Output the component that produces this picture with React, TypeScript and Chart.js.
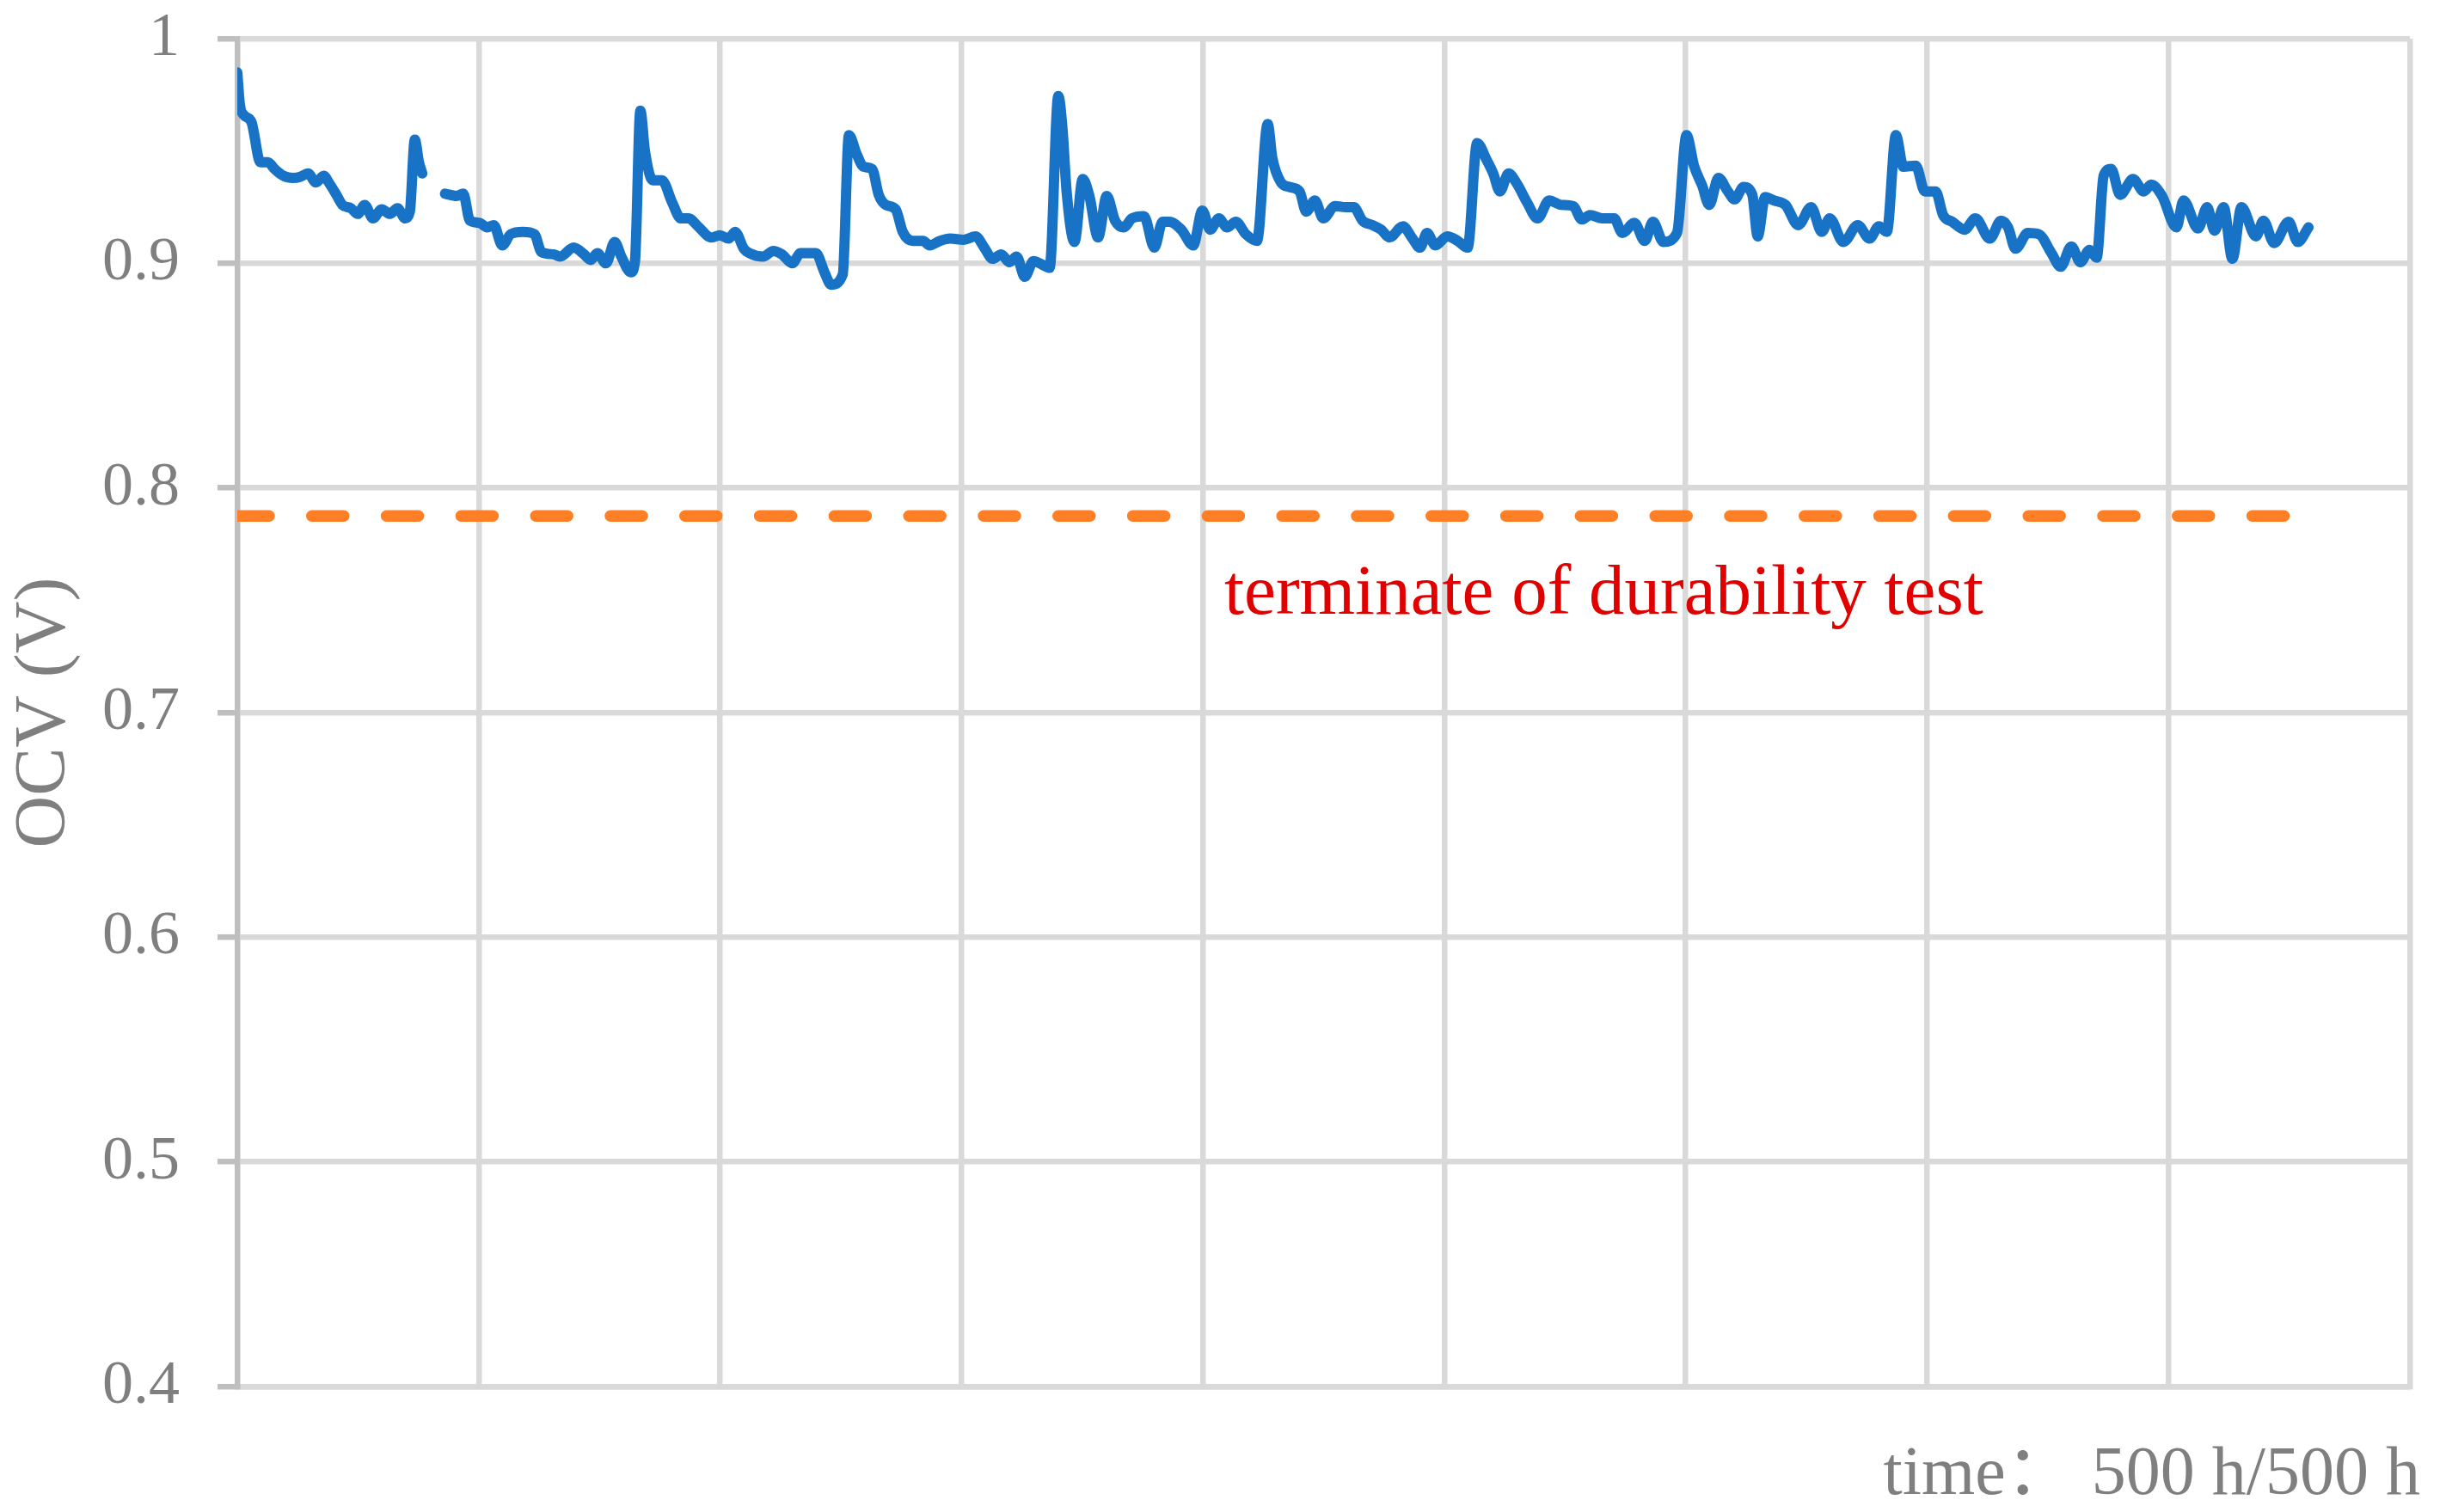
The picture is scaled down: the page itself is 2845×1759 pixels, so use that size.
import React, { useEffect, useRef } from 'react';
import { Chart, registerables } from 'chart.js';

Chart.register(...registerables);

// ---- data ----
const timeHours = [
  0, 0.6, 1.6, 3.4, 5.6, 7.4, 9.0, 11.1, 13.5, 15.2, 17.1, 19.0, 20.9, 22.1, 23.8, 25.4, 27.5, 29.1, 30.8, 32.8,
  34.9, 36.9, 38.7, 40.6, 41.7, 42.9, 43.9, 44.7, 47.5,
  50.2, 53.0, 54.6, 56.2, 58.5, 60.4, 62.0, 64.0, 66.1, 69.0, 71.8, 73.5, 76.4, 78.0, 81.3, 83.8, 85.4, 87.0, 89.1,
  91.2, 92.8, 95.1, 96.1, 97.4, 98.5, 100.4, 102.6, 105.1, 107.2, 109.1, 111.3, 114.6, 116.6, 118.7, 120.3, 122.4,
  123.8, 127.1, 129.5, 131.6, 134.1, 136.1, 139.8, 141.9, 143.5, 146.3, 147.8, 149.7, 151.3, 153.4, 155.0, 156.7,
  159.1, 160.8, 163.2, 165.7, 167.3, 169.8, 172.3, 175.5, 178.4, 180.5, 182.5, 184.6, 186.6, 188.3, 190.3, 192.4,
  194.4, 196.3, 198.4, 199.4, 200.4, 202.3, 204.3, 205.9, 208.0, 210.1, 212.1, 214.2, 216.2, 219.1, 221.6, 223.6,
  225.2, 228.1, 231.0, 233.2, 235.1, 237.2, 239.2, 241.3, 243.7, 246.4,
  249.0, 250.1, 252.2, 254.2, 256.7, 258.3, 260.4, 262.4, 265.3, 267.8, 269.8, 271.9, 274.3, 276.4, 278.4, 281.7,
  283.8, 285.8, 287.5, 289.5, 292.4, 294.9, 297.3, 299.6, 301.9, 303.5, 305.1, 307.2, 309.2, 311.7, 314.2, 317.0,
  319.9, 322.8, 324.9, 326.9, 329.8, 332.7, 334.7, 337.6, 340.1, 342.1, 344.6, 347.9, 350.2, 352.0, 354.0, 355.7,
  357.9, 360.2, 361.8, 364.0, 366.1, 367.4, 369.2, 371.3, 374.1,
  377.2, 380.3, 382.9, 384.8, 388.1, 391.6, 394.4, 396.7, 398.6, 400.8, 402.6, 405.6, 407.8, 410.4, 412.2, 414.4,
  417.4, 420.0, 423.5, 426.2, 427.9, 429.7, 432.7, 435.3, 438.4, 440.6, 443.2, 445.4, 447.6, 449.3, 451.0, 452.8,
  455.0, 458.1, 460.7, 462.5, 465.1, 468.6, 470.3, 473.8, 476.0, 477.8, 480.0, 482.1, 484.3, 487.8, 489.6, 492.2,
  495.7, 497.9, 500.5,
];

const ocvVolts = [
  0.985, 0.971, 0.966, 0.963, 0.945, 0.945, 0.942, 0.939, 0.938, 0.9385, 0.940, 0.936, 0.939, 0.936, 0.931, 0.926, 0.9245, 0.922, 0.926, 0.920,
  0.924, 0.922, 0.9245, 0.920, 0.923, 0.955, 0.945, 0.940, null,
  0.931, 0.930, 0.931, 0.919, 0.918, 0.916, 0.917, 0.908, 0.913, 0.914, 0.913, 0.905, 0.904, 0.903, 0.907, 0.904, 0.9015, 0.9045, 0.900,
  0.9095, 0.903, 0.896, 0.901, 0.968, 0.950, 0.937, 0.937, 0.927, 0.920, 0.920, 0.9165, 0.9115, 0.9125, 0.911, 0.914, 0.9065,
  0.9045, 0.903, 0.9055, 0.904, 0.900, 0.9045, 0.9045, 0.896, 0.8905, 0.895, 0.957, 0.9485, 0.943, 0.942, 0.9305, 0.926,
  0.924, 0.914, 0.910, 0.910, 0.908, 0.910, 0.911, 0.9105, 0.912, 0.907, 0.902, 0.904, 0.9005, 0.903, 0.894, 0.901,
  0.8995, 0.898, 0.9745, 0.960, 0.932, 0.9095, 0.9375, 0.930, 0.9115, 0.930, 0.919, 0.916, 0.920, 0.921, 0.907, 0.9185,
  0.9185, 0.915, 0.908, 0.9235, 0.915, 0.920, 0.916, 0.9185, 0.913, 0.910,
  0.962, 0.947, 0.936, 0.934, 0.932, 0.923, 0.928, 0.920, 0.9255, 0.925, 0.925, 0.919, 0.917, 0.915, 0.9115, 0.9165,
  0.9115, 0.907, 0.9135, 0.908, 0.912, 0.910, 0.907, 0.9535, 0.946, 0.940, 0.932, 0.940, 0.9355, 0.927, 0.920, 0.928,
  0.926, 0.9255, 0.9195, 0.9215, 0.920, 0.920, 0.9135, 0.918, 0.910, 0.9185, 0.9095, 0.9135, 0.957, 0.9435, 0.9345, 0.926,
  0.938, 0.932, 0.9285, 0.934, 0.9305, 0.912, 0.9295, 0.928, 0.926,
  0.917, 0.925, 0.914, 0.920, 0.9095, 0.917, 0.911, 0.9165, 0.914, 0.957, 0.943, 0.9435, 0.932, 0.932, 0.9215, 0.9185,
  0.915, 0.920, 0.911, 0.919, 0.916, 0.9065, 0.9135, 0.913, 0.9045, 0.8985, 0.9075, 0.9005, 0.906, 0.9025, 0.939, 0.942,
  0.9305, 0.9375, 0.932, 0.935, 0.930, 0.916, 0.928, 0.9155, 0.925, 0.9145, 0.925, 0.902, 0.925, 0.912, 0.919, 0.909,
  0.9185, 0.9095, 0.916,
];

const limitHours = [0, 495.5];
const limitVolts = [0.7875, 0.7875];

const X_MIN = 0;
const X_MAX = 525;
const X_DIVISIONS = 9;
const Y_MIN = 0.4;
const Y_MAX = 1;
const Y_STEP = 0.1;

const Y_TITLE = 'OCV (V)';
const ANNOTATION_TEXT = 'terminate of durability test';
const ANNOTATION_HOURS = 238.5;
const ANNOTATION_VOLTS = 0.7441;
const TIME_TEXT = 'time\uFF1A 500 h/500 h';

const FONT = "'Liberation Serif', 'Times New Roman', 'Noto Sans CJK SC', serif";

const textPlugin = {
  id: 'extraTexts',
  afterDraw(chart: any) {
    const { ctx, scales } = chart;
    const x = scales.x;
    const y = scales.y;
    ctx.save();
    ctx.font = `83px ${FONT}`;
    ctx.fillStyle = '#E00000';
    ctx.textAlign = 'left';
    ctx.textBaseline = 'alphabetic';
    ctx.fillText(ANNOTATION_TEXT, x.getPixelForValue(ANNOTATION_HOURS), y.getPixelForValue(ANNOTATION_VOLTS));
    ctx.font = `80px ${FONT}`;
    ctx.fillStyle = '#7f7f7f';
    ctx.textAlign = 'right';
    ctx.fillText(TIME_TEXT, chart.width - 30, chart.height - 21);
    ctx.restore();
  },
};

export default function App() {
  const ref = useRef<HTMLCanvasElement>(null);

  useEffect(() => {
    document.body.style.margin = '0';
    document.body.style.overflow = 'hidden';
    const canvas = ref.current;
    if (!canvas) return;

    const ocvData = timeHours.map((t, i) => ({ x: t, y: ocvVolts[i] }));
    const limitData = limitHours.map((t, i) => ({ x: t, y: limitVolts[i] }));

    const chart = new Chart(canvas, {
      type: 'line',
      data: {
        datasets: [
          {
            label: 'OCV',
            data: ocvData as any,
            borderColor: '#1873C7',
            borderWidth: 12,
            pointRadius: 0,
            cubicInterpolationMode: 'monotone',
            borderJoinStyle: 'round',
            borderCapStyle: 'round',
            spanGaps: false,
            fill: false,
          },
          {
            label: 'limit',
            data: limitData as any,
            borderColor: '#FF7F27',
            borderWidth: 13.5,
            borderDash: [37, 49.8],
            borderCapStyle: 'round',
            pointRadius: 0,
            fill: false,
          },
        ],
      },
      options: {
        animation: false,
        responsive: false,
        devicePixelRatio: 1,
        layout: { padding: { left: 0, top: 45, right: 42, bottom: 0 } },
        plugins: {
          legend: { display: false },
          tooltip: { enabled: false },
        },
        scales: {
          x: {
            type: 'linear',
            min: X_MIN,
            max: X_MAX,
            afterBuildTicks: (scale: any) => {
              const ticks = [];
              for (let i = 1; i <= X_DIVISIONS; i++) ticks.push({ value: X_MIN + ((X_MAX - X_MIN) * i) / X_DIVISIONS });
              scale.ticks = ticks;
            },
            afterFit: (scale: any) => {
              scale.height = 146;
            },
            ticks: { display: false },
            grid: { color: '#d9d9d9', lineWidth: 6.5, drawTicks: false },
            border: { display: true, color: '#d9d9d9', width: 6.5 },
          },
          y: {
            type: 'linear',
            min: Y_MIN,
            max: Y_MAX,
            afterFit: (scale: any) => {
              scale.width = 276;
            },
            ticks: {
              stepSize: Y_STEP,
              padding: 44,
              color: '#7f7f7f',
              font: { family: FONT, size: 72, lineHeight: 0.01 },
              callback: (v: any) => String(Number(Number(v).toFixed(1))),
            },
            grid: { color: '#d9d9d9', lineWidth: 6.5, tickLength: 23, tickColor: '#bfbfbf' },
            border: { display: true, color: '#bfbfbf', width: 6.5 },
            title: {
              display: true,
              text: Y_TITLE,
              color: '#7f7f7f',
              font: { family: FONT, size: 84 },
              padding: { top: 3, bottom: 0 },
            },
          },
        },
      },
      plugins: [textPlugin],
    });

    return () => chart.destroy();
  }, []);

  return <canvas ref={ref} width={2845} height={1759} style={{ display: 'block', width: 2845, height: 1759 }} />;
}
